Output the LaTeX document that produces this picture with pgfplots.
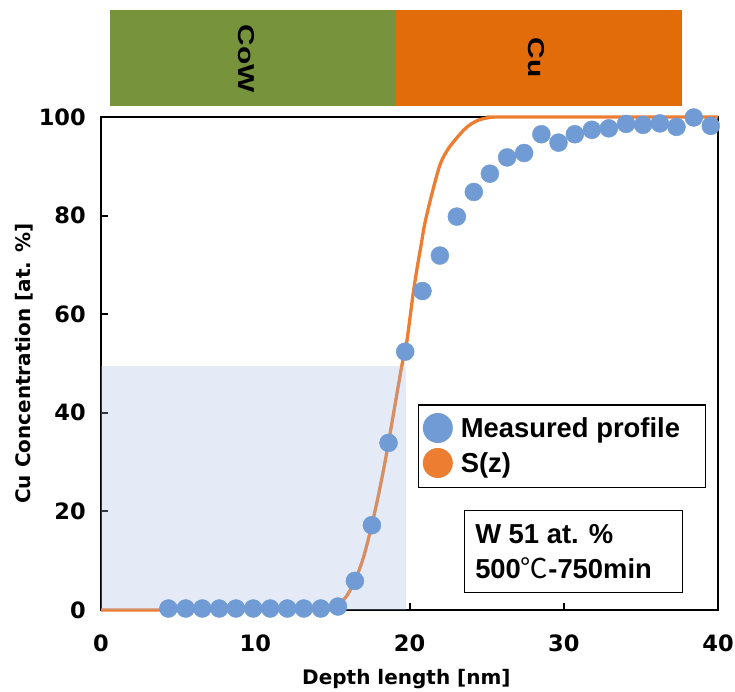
\documentclass[border=0pt]{standalone}
\usepackage{fontspec}
\usepackage{pgfplots}
\pgfplotsset{compat=1.18}
\setmainfont{Liberation Sans}
\newfontfamily\tickfont{DejaVu Sans}
\newfontfamily\cjk{Noto Sans CJK JP}

\definecolor{meas}{RGB}{112,155,213}
\definecolor{fitc}{RGB}{237,125,49}
\definecolor{cowgreen}{RGB}{119,147,60}
\definecolor{cuorange}{RGB}{226,107,10}
\definecolor{cowshade}{RGB}{164,186,224}

\begin{document}
\begin{tikzpicture}
\useasboundingbox (-101pt,-81pt) rectangle (634pt,610pt);
\begin{axis}[
  at={(0pt,0pt)}, anchor=south west,
  scale only axis, width=617pt, height=493pt,
  xmin=0, xmax=40, ymin=0, ymax=100,
  clip=false,
  xtick={0,10,20,30,40}, ytick={0,20,40,60,80,100},
  tick pos=left, tick align=inside,
  major tick length=7pt,
  tick style={black, line width=2pt},
  axis line style={black, line width=2.2pt},
  /pgf/number format/assume math mode=true,
  ticklabel style={font=\tickfont\bfseries\fontsize{22.5}{22.5}\selectfont, inner sep=0pt},
  xticklabel style={anchor=north, yshift=-25pt},
  yticklabel style={anchor=east, xshift=-15pt},
  xlabel={Depth length [nm]},
  ylabel={Cu Concentration [at. \%]},
  label style={font=\tickfont\bfseries\fontsize{20}{20}\selectfont},
  xlabel style={at={(axis description cs:0.495,-0.152)}, anchor=base},
  ylabel style={at={(axis description cs:-0.1248,0.5)}, anchor=center},
  legend style={at={(axis cs:20.85,40.0)}, anchor=north west, draw=none, fill=none,
    font=\bfseries\fontsize{27.4}{27.4}\selectfont,
    row sep=5pt, inner sep=0pt,
    nodes={inner sep=1pt, anchor=west}},
  legend cell align=left,
]

% layer bands above the plot
\fill[cowgreen] (axis cs:0.58,121.7) rectangle (axis cs:19.1,102.3);
\fill[cuorange] (axis cs:19.1,121.7) rectangle (axis cs:37.69,102.3);
\node[rotate=-90, xscale=1.3, font=\bfseries\fontsize{23}{23}\selectfont]
  at (axis cs:9.45,111.8) {CoW};
\node[rotate=-90, xscale=1.3, font=\bfseries\fontsize{23}{23}\selectfont]
  at (axis cs:28.25,112.1) {Cu};

% measured depth profile
\addplot[only marks, mark=*, mark size=9pt, mark options={fill=meas, draw=meas},
  legend image code/.code={\path[draw=none, fill=none] (0pt,-15pt) rectangle (37pt,15pt);
                           \fill[meas, draw=none] (15pt,0pt) circle (15pt);}]
  coordinates {
  (4.37,0.3) (5.49,0.3) (6.57,0.3) (7.67,0.3) (8.75,0.3) (9.87,0.3)
  (10.97,0.3) (12.08,0.3) (13.15,0.3) (14.25,0.3) (15.36,0.7)
  (16.46,5.9) (17.56,17.2) (18.64,33.9) (19.72,52.4) (20.84,64.7)
  (21.97,71.9) (23.07,79.8) (24.17,84.8) (25.21,88.5) (26.33,91.8)
  (27.43,92.7) (28.55,96.5) (29.66,94.8) (30.72,96.5) (31.82,97.4)
  (32.92,97.7) (34.04,98.6) (35.14,98.4) (36.23,98.7) (37.31,98.0)
  (38.43,99.9) (39.53,98.2)
  };
\addlegendentry{Measured profile}

% fitted profile S(z)
\addplot[fitc, line width=3.3pt, smooth,
  legend image code/.code={\path[draw=none, fill=none] (0pt,-15pt) rectangle (37pt,15pt);
                           \fill[fitc, draw=none] (15pt,0pt) circle (15pt);}]
  coordinates {
  (0,0) (14,0) (14.5,0.05) (15,0.3) (15.5,1.3) (16,3.2) (16.5,6.3)
  (17,10.5) (17.5,16.5) (18,23.5) (18.5,31.5) (19,40.5) (19.5,49.5)
  (19.8,54) (20,58.5) (20.25,64.5) (20.5,69.5) (20.75,74) (21,78.5)
  (21.5,85) (22,90.5) (22.5,93.5) (23,95.5) (23.5,97.3) (24,98.6)
  (24.5,99.4) (25,99.8) (25.5,100) (26,100) (40,100)
  };
\addlegendentry{S(z)}

% CoW region overlay
\fill[cowshade, opacity=0.3] (axis cs:0,0) rectangle (axis cs:19.75,49.5);

% legend frame
\draw[black, line width=1.2pt] (axis cs:20.57,41.6) rectangle (axis cs:39.2,24.9);

% annealing condition box
\draw[black, line width=1.2pt] (axis cs:23.59,20.14) rectangle (axis cs:37.69,3.51);
\node[anchor=base west, inner sep=0pt, font=\bfseries\fontsize{27.4}{27.4}\selectfont]
  at (axis cs:24.25,13.59) {W 51 at. \%};
\node[anchor=base west, inner sep=0pt, font=\bfseries\fontsize{27.4}{27.4}\selectfont]
  at (axis cs:24.25,6.49) {500{\cjk\mdseries ℃}-750min};
\end{axis}
\end{tikzpicture}
\end{document}
